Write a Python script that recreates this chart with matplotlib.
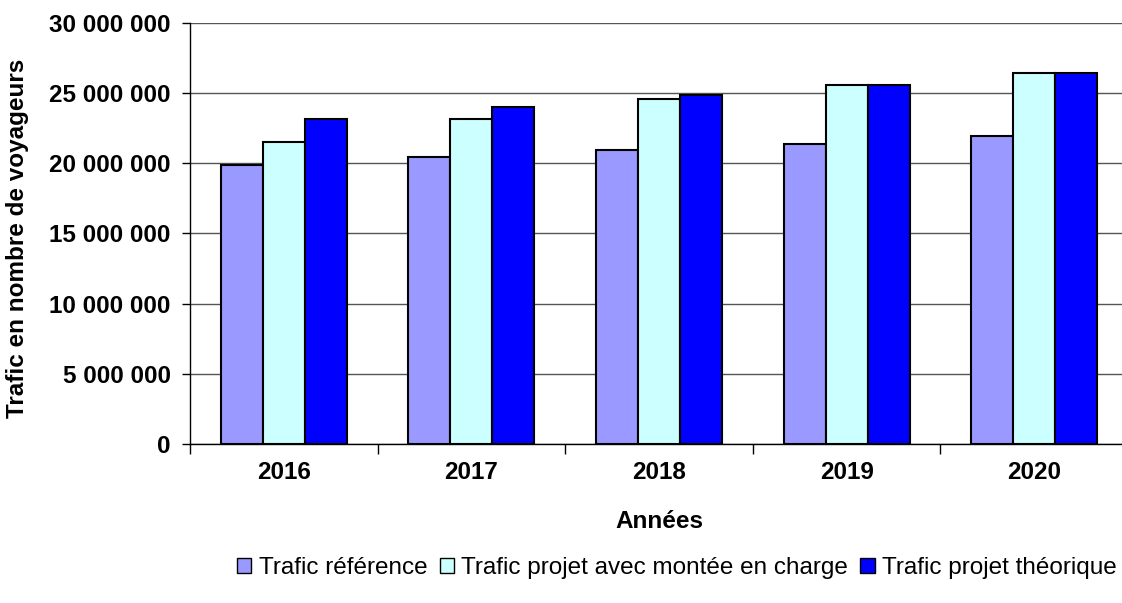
import matplotlib
matplotlib.use("Agg")
import matplotlib.pyplot as plt
import numpy as np
from matplotlib.ticker import FuncFormatter, FixedLocator
from matplotlib.patches import Patch

years = ["2016", "2017", "2018", "2019", "2020"]
trafic_reference = [19880000, 20430000, 20960000, 21390000, 21920000]
trafic_montee = [21540000, 23170000, 24570000, 25560000, 26390000]
trafic_theorique = [23170000, 23990000, 24860000, 25560000, 26390000]
series_labels = ["Trafic référence", "Trafic projet avec montée en charge", "Trafic projet théorique"]
colors = ["#9999FF", "#CCFFFF", "#0000FF"]

plt.rcParams["font.family"] = ["Liberation Sans", "DejaVu Sans"]

FS = 17.5
fig = plt.figure(figsize=(11.22, 6.03), dpi=100)
L, R, B, T = 190, 1128, 444.3, 22.7
ax = fig.add_axes([L/1122, 1-B/603, (R-L)/1122, (B-T)/603])

x = np.arange(len(years))
w = 0.224
for i, (vals, c) in enumerate(zip([trafic_reference, trafic_montee, trafic_theorique], colors)):
    ax.bar(x + (i-1)*w, vals, width=w, color=c, edgecolor="black", linewidth=1.5, zorder=3)

ax.set_xlim(-0.5, len(years)-0.5)
ax.set_ylim(0, 30000000)
ax.set_yticks(np.arange(0, 30000001, 5000000))
ax.yaxis.set_major_formatter(FuncFormatter(lambda v, p: "{:,}".format(int(v)).replace(",", " ")))
ax.grid(axis="y", color="#555555", linewidth=1, zorder=0)

ax.set_xticks(x)
ax.set_xticklabels(years)
ax.xaxis.set_minor_locator(FixedLocator(np.arange(-0.5, len(years), 1.0)))
ax.tick_params(axis="x", which="major", length=0, pad=12, labelsize=FS)
ax.tick_params(axis="x", which="minor", length=7, width=1, color="black", direction="out")
ax.tick_params(axis="y", length=6, width=1, direction="out", pad=8, labelsize=FS)
for lab in ax.get_xticklabels() + ax.get_yticklabels():
    lab.set_fontweight("bold")

for s in ["top", "right"]:
    ax.spines[s].set_visible(False)
for s in ["left", "bottom"]:
    ax.spines[s].set_color("black")
    ax.spines[s].set_linewidth(1)

ax.set_xlabel("Années", fontsize=FS, fontweight="bold", va="center")
ax.xaxis.set_label_coords((659-L)/(R-L), -(522-B)/(B-T))
ax.set_ylabel("Trafic en nombre de voyageurs", fontsize=FS, fontweight="bold", va="center")
ax.yaxis.set_label_coords(-(L-18)/(R-L), (B-238)/(B-T))

handles = [Patch(facecolor=c, edgecolor="black", linewidth=1) for c in colors]
fig.legend(handles, series_labels, loc="center", bbox_to_anchor=(677/1122, 1-568/603),
           ncol=3, frameon=False, fontsize=FS, handlelength=0.6, handleheight=0.6,
           handletextpad=0.3, columnspacing=0.5, borderpad=0)

fig.savefig("out.png", dpi=100)
